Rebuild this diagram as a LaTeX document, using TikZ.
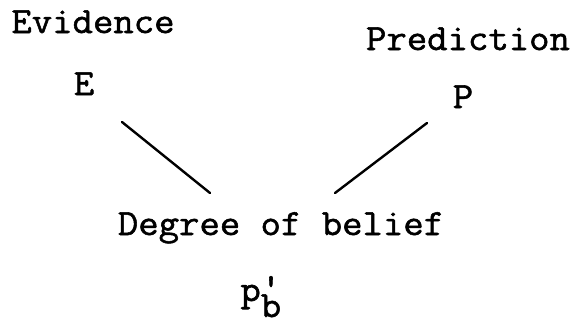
\documentclass[tikz,border=0pt]{standalone}
\usepackage{fontspec}
\usepackage{tikz}
\usetikzlibrary{positioning}
\newfontfamily\typewriter{Latin Modern Mono}[FakeBold=1.5,FakeStretch=1.07]
\tikzset{
  typed/.style={font=\typewriter\fontsize{18.5}{22}\selectfont, inner sep=0pt, anchor=base},
  linkline/.style={line width=1.2pt, draw=black, line cap=round}
}
\begin{document}
\begin{tikzpicture}[x=0.5pt, y=-0.5pt]
      \useasboundingbox (0,0) rectangle (572,321);
      \node[typed] (evid) at (93,33) {Evidence};
      \node[typed] (pred) at (468,50) {Prediction};
      \node[typed] (E) at (84,95) {E};
      \node[typed] (P) at (463,108) {P};
      \node[typed] (degree) at (281,235) {Degree of belief};
      \node[typed, anchor=base west] (pb) at (240,301) {p\rlap{\raisebox{-8pt}{b}}\raisebox{1pt}{'}};
      % the two strokes meeting above the degree of belief
      \coordinate (Etop) at (122,122);
      \coordinate (Ebot) at (210,193);
      \coordinate (Ptop) at (427,123);
      \coordinate (Pbot) at (335,193);
      \draw[linkline] (Etop) -- (Ebot);
      \draw[linkline] (Ptop) -- (Pbot);
    \end{tikzpicture}
\end{document}
